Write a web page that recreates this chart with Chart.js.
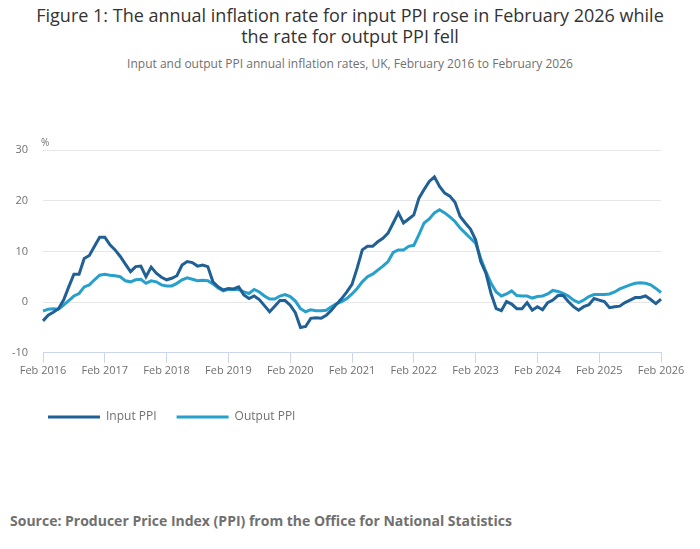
<!DOCTYPE html>
<html>
<head>
<meta charset="utf-8">
<script src="https://cdn.jsdelivr.net/npm/chart.js@4.4.1/dist/chart.umd.min.js"></script>
<style>
  html, body { margin: 0; padding: 0; background: #fff; }
  body { width: 700px; height: 549px; position: relative; overflow: hidden; font-family: "Open Sans", sans-serif; }
  #title { position: absolute; top: 5px; left: 0; width: 700px; text-align: center; font-size: 18px; line-height: 21px; color: #333; }
  #subtitle { position: absolute; top: 55px; left: 0; width: 700px; text-align: center; font-size: 12px; color: #707070; }
  #chart-box { position: absolute; top: 120px; left: 0; width: 700px; height: 313px; }
  #source { position: absolute; top: 511px; left: 10px; font-size: 14px; font-weight: bold; color: #707070; }
</style>
</head>
<body>
<div id="title">Figure 1: The annual inflation rate for input PPI rose in February 2026 while<br>the rate for output PPI fell</div>
<div id="subtitle">Input and output PPI annual inflation rates, UK, February 2016 to February 2026</div>
<div id="chart-box"><canvas id="ppi-chart"></canvas></div>
<div id="source">Source: Producer Price Index (PPI) from the Office for National Statistics</div>
<script>
// Months and years used to build the x-axis categories (Feb 2016 to Feb 2026)
const MONTHS = ['Jan', 'Feb', 'Mar', 'Apr', 'May', 'Jun', 'Jul', 'Aug', 'Sep', 'Oct', 'Nov', 'Dec'];
const YEARS = [2016, 2017, 2018, 2019, 2020, 2021, 2022, 2023, 2024, 2025, 2026];

// Input PPI annual rate (%), monthly from Feb 2016
const inputPPI = [
    -3.7, -2.6, -2.0, -1.3, 0.4, 3.0, 5.5, 5.5, 8.6, 9.2, 11.0,
    12.8, 12.8, 11.3, 10.3, 9.0, 7.5, 6.0, 7.0, 7.1, 5.0, 6.9, 5.7,
    4.9, 4.4, 4.7, 5.2, 7.3, 8.0, 7.8, 7.1, 7.3, 7.0, 4.0, 3.0,
    2.4, 2.7, 2.6, 3.0, 1.4, 0.7, 1.2, 0.5, -0.7, -1.9, -0.8, 0.3,
    0.3, -0.6, -2.1, -5.0, -4.8, -3.2, -3.1, -3.2, -2.6, -1.6, -0.4, 0.7,
    2.0, 3.5, 6.7, 10.3, 11.0, 11.0, 11.9, 12.6, 13.6, 15.6, 17.6, 15.6,
    16.4, 17.2, 20.5, 22.2, 23.8, 24.7, 22.8, 21.5, 20.9, 19.7, 16.9, 15.6,
    14.4, 12.3, 8.0, 5.7, 1.7, -1.3, -1.7, 0.1, -0.4, -1.3, -1.3, -0.1,
    -1.6, -0.9, -1.5, -0.1, 0.4, 1.3, 1.3, 0.1, -0.9, -1.6, -0.9, -0.5,
    0.7, 0.4, 0.1, -1.1, -0.9, -0.8, -0.1, 0.4, 0.9, 0.9, 1.2, 0.5,
    -0.3, 0.6
];

// Output PPI annual rate (%), monthly from Feb 2016
const outputPPI = [
    -1.8, -1.4, -1.3, -1.4, -0.6, 0.3, 1.2, 1.7, 3.0, 3.4, 4.4,
    5.3, 5.5, 5.3, 5.2, 5.0, 4.2, 4.0, 4.4, 4.5, 3.7, 4.2, 4.0,
    3.4, 3.2, 3.2, 3.7, 4.4, 4.8, 4.5, 4.2, 4.3, 4.2, 3.6, 2.8,
    2.2, 2.5, 2.5, 2.5, 2.0, 1.7, 2.5, 2.0, 1.2, 0.6, 0.6, 1.2,
    1.5, 1.1, 0.2, -1.3, -1.9, -1.5, -1.7, -1.7, -1.6, -0.9, -0.3, 0.1,
    0.7, 1.6, 2.7, 4.0, 5.0, 5.5, 6.3, 7.1, 8.0, 9.8, 10.3, 10.3,
    11.0, 11.2, 13.3, 15.6, 16.4, 17.6, 18.2, 17.6, 16.8, 15.9, 14.6, 13.6,
    12.6, 11.6, 8.6, 6.0, 3.7, 2.0, 1.2, 1.6, 2.2, 1.3, 1.2, 1.2,
    0.8, 1.1, 1.2, 1.6, 2.3, 2.1, 1.7, 1.2, 0.4, -0.1, 0.4, 1.1,
    1.5, 1.5, 1.5, 1.6, 2.0, 2.6, 3.0, 3.4, 3.7, 3.8, 3.7, 3.4,
    2.7, 1.9
];

const Y_MIN = -10;
const Y_MAX = 30;
const Y_STEP = 10;

// Build "Feb 2016" ... "Feb 2026"
const labels = [];
YEARS.forEach(year => {
    MONTHS.forEach((m, i) => {
        if (year === 2016 && i < 1) return;
        if (year === 2026 && i > 1) return;
        labels.push(`${m} ${year}`);
    });
});

const TEXT_GREY = '#707070';
const AXIS_BLUE = '#ccd6eb';
const GRID_GREY = '#e6e6e6';
const INPUT_COLOR = '#206095';
const OUTPUT_COLOR = '#27a0cc';

Chart.defaults.font.family = '"Open Sans", sans-serif';
Chart.defaults.color = TEXT_GREY;

// Draws the "%" unit label above the y axis
const unitLabel = {
    id: 'unitLabel',
    afterDraw(chart) {
        const { ctx, chartArea } = chart;
        ctx.save();
        ctx.font = '10px "Open Sans", sans-serif';
        ctx.fillStyle = TEXT_GREY;
        ctx.textAlign = 'left';
        ctx.textBaseline = 'bottom';
        ctx.fillText('%', chartArea.left - 2, chartArea.top - 2);
        ctx.restore();
    }
};

// Nudge the legend so it starts under the plot, like the original
const legendShift = {
    id: 'legendShift',
    afterLayout(chart) {
        if (chart.legend) chart.legend.left += 28;
    }
};

const isFeb = (label) => typeof label === 'string' && label.startsWith('Feb');

new Chart(document.getElementById('ppi-chart').getContext('2d'), {
    type: 'line',
    data: {
        labels: labels,
        datasets: [
            {
                label: 'Input PPI',
                data: inputPPI,
                borderColor: INPUT_COLOR,
                backgroundColor: INPUT_COLOR,
                borderWidth: 3,
                pointRadius: 0,
                tension: 0
            },
            {
                label: 'Output PPI',
                data: outputPPI,
                borderColor: OUTPUT_COLOR,
                backgroundColor: OUTPUT_COLOR,
                borderWidth: 3,
                pointRadius: 0,
                tension: 0
            }
        ]
    },
    options: {
        responsive: true,
        maintainAspectRatio: false,
        animation: false,
        layout: { padding: { top: 30, left: 0, right: 39, bottom: 0 } },
        plugins: {
            title: { display: false },
            tooltip: { enabled: false },
            legend: {
                position: 'bottom',
                align: 'start',
                labels: {
                    boxWidth: 52,
                    boxHeight: 3,
                    padding: 20,
                    color: TEXT_GREY,
                    font: { size: 12 },
                    generateLabels(chart) {
                        return Chart.defaults.plugins.legend.labels.generateLabels(chart).map(item => {
                            item.lineWidth = 0;
                            item.fillStyle = chart.data.datasets[item.datasetIndex].borderColor;
                            return item;
                        });
                    }
                }
            }
        },
        scales: {
            x: {
                type: 'category',
                offset: false,
                afterFit: (scale) => { scale.height += 13; },
                border: { display: true, color: AXIS_BLUE, width: 1 },
                grid: {
                    drawOnChartArea: false,
                    drawTicks: true,
                    tickLength: 10,
                    color: (ctx) => (ctx.tick && isFeb(labels[ctx.tick.value]) ? AXIS_BLUE : 'rgba(0,0,0,0)')
                },
                ticks: {
                    autoSkip: false,
                    maxRotation: 0,
                    minRotation: 0,
                    padding: 1,
                    color: TEXT_GREY,
                    font: { size: 11 },
                    callback: function(value) {
                        const label = this.getLabelForValue(value);
                        return isFeb(label) ? label : '';
                    }
                }
            },
            y: {
                min: Y_MIN,
                max: Y_MAX,
                afterFit: (scale) => { scale.width = 43; },
                border: { display: false },
                grid: {
                    color: (ctx) => (ctx.tick && ctx.tick.value === Y_MIN ? 'rgba(0,0,0,0)' : GRID_GREY),
                    drawTicks: false
                },
                ticks: {
                    stepSize: Y_STEP,
                    padding: 15,
                    color: TEXT_GREY,
                    font: { size: 11 }
                }
            }
        }
    },
    plugins: [unitLabel, legendShift]
});
</script>
</body>
</html>
